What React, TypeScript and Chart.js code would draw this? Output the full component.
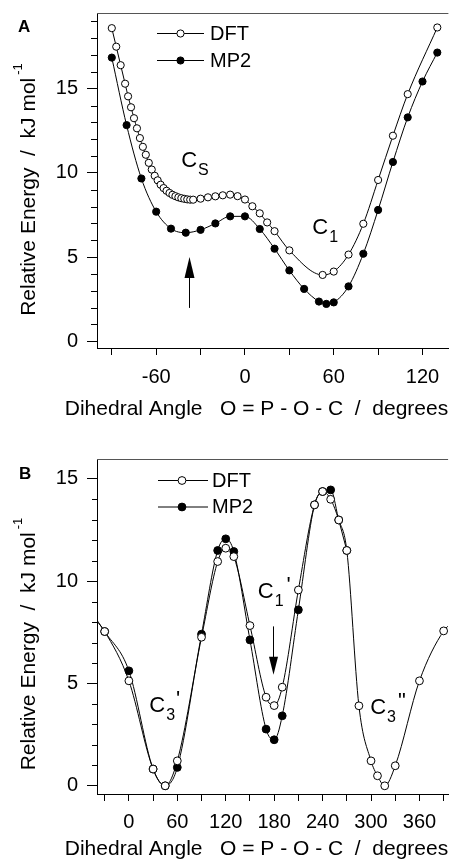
import React, { useEffect, useRef } from 'react';
import { Chart, registerables } from 'chart.js';

Chart.register(...registerables);

const FONT = '"Liberation Sans", Arial, Helvetica, sans-serif';

// ---------------- Panel A ----------------
const aDftAngle = [-90, -87, -84, -81, -79, -77, -75, -73, -71, -69, -67, -65, -63, -61, -59, -57, -55, -53, -51, -49, -47, -45, -43, -41, -39, -37, -35, -30, -25, -20, -15, -10, -5, 0, 5, 10, 15, 20, 30, 52.5, 60, 70, 80, 90, 100, 110, 130];
const aDftEnergy = [18.6, 17.5, 16.4, 15.3, 14.55, 13.9, 13.25, 12.65, 12.07, 11.55, 11.08, 10.6, 10.2, 9.83, 9.56, 9.3, 9.1, 8.94, 8.81, 8.7, 8.62, 8.55, 8.5, 8.46, 8.43, 8.41, 8.41, 8.47, 8.55, 8.61, 8.67, 8.71, 8.62, 8.42, 8.02, 7.6, 7.06, 6.54, 5.4, 3.94, 4.14, 5.15, 6.98, 9.58, 12.21, 14.68, 18.64];
const aMp2Angle = [-90, -80, -70, -60, -50, -40, -30, -20, -10, 0, 10, 20, 30, 40, 50, 55, 60, 70, 80, 90, 100, 110, 120, 130];
const aMp2Energy = [16.85, 12.84, 9.67, 7.7, 6.69, 6.45, 6.62, 7.0, 7.42, 7.42, 6.67, 5.5, 4.21, 3.11, 2.36, 2.22, 2.31, 3.26, 5.2, 7.8, 10.65, 13.3, 15.43, 17.15];
const aXLabels = [-60, 0, 60, 120];
const aYLabels = [0, 5, 10, 15];

// ---------------- Panel B ----------------
const bDftAngle = [-45, -30, 0, 30, 45, 60, 90, 110, 120, 130, 150, 170, 180, 190, 210, 230, 240, 250, 260, 270, 285, 300, 308, 317, 330, 360, 390, 400];
const bDftEnergy = [8.3, 7.54, 5.13, 0.82, 0, 1.22, 7.26, 10.96, 11.61, 11.2, 7.83, 4.33, 3.92, 4.82, 9.57, 13.73, 14.38, 14.0, 12.99, 11.5, 3.91, 1.22, 0.49, 0, 0.98, 5.13, 7.57, 7.95];
const bMp2Angle = [-45, -30, 0, 30, 45, 60, 90, 110, 120, 130, 150, 170, 180, 190, 210, 230, 240, 250, 260, 270];
const bMp2Energy = [8.4, 7.54, 5.62, 0.82, 0, 0.9, 7.41, 11.5, 12.07, 11.45, 7.13, 2.77, 2.25, 3.42, 8.6, 13.73, 14.38, 14.46, 12.99, 11.5];
const bXLabels = [0, 60, 120, 180, 240, 300, 360];
const bYLabels = [0, 5, 10, 15];

const seriesNames = ['DFT', 'MP2'];
const xTitle = 'Dihedral Angle   O = P - O - C  /  degrees';
const yTitleMain = 'Relative Energy  /  kJ mol';
const yTitleSup = '-1';

function pts(xs: number[], ys: number[]) {
  return xs.map((x, i) => ({ x, y: ys[i] }));
}

type Lbl = { x: number; y: number; main: string; sub: string; mark?: string; markDx?: number };
type Arr = { x: number; from: number; to: number; head: number; half: number };

function drawOpenOrFilled(ctx: CanvasRenderingContext2D, x: number, y: number, r: number, filled: boolean) {
  ctx.beginPath();
  ctx.arc(x, y, r, 0, Math.PI * 2);
  ctx.fillStyle = filled ? '#000' : '#fff';
  ctx.fill();
  ctx.lineWidth = 1;
  ctx.strokeStyle = '#000';
  ctx.stroke();
}

function makeConfig(p: any) {
  const plugin = {
    id: 'decor' + p.tag,
    afterDraw(chart: any) {
      const ctx: CanvasRenderingContext2D = chart.ctx;
      const ca = chart.chartArea;
      const xs = chart.scales.x;
      const ys = chart.scales.y;
      ctx.save();
      // top frame line
      ctx.strokeStyle = '#555';
      ctx.lineWidth = 1;
      ctx.beginPath();
      ctx.moveTo(ca.left, Math.round(ca.top) + 0.5);
      ctx.lineTo(ca.right, Math.round(ca.top) + 0.5);
      ctx.stroke();
      // minor y ticks
      ctx.strokeStyle = '#000';
      ctx.beginPath();
      ys.ticks.forEach((t: any) => {
        if (p.yLabels.includes(t.value)) return;
        const py = Math.round(ys.getPixelForValue(t.value)) + 0.5;
        ctx.moveTo(ca.left - p.minorLen, py);
        ctx.lineTo(ca.left + 0.5, py);
      });
      ctx.stroke();

      // panel letter
      ctx.fillStyle = '#000';
      ctx.font = `bold 17px ${FONT}`;
      ctx.textAlign = 'left';
      ctx.textBaseline = 'alphabetic';
      ctx.fillText(p.letter, p.letterPos[0], p.letterPos[1]);

      // legend
      const lg = p.legend;
      seriesNames.forEach((name, i) => {
        const yy = lg.rows[i];
        ctx.strokeStyle = '#000';
        ctx.lineWidth = 1;
        ctx.beginPath();
        ctx.moveTo(lg.x0, yy + 0.5);
        ctx.lineTo(lg.x1, yy + 0.5);
        ctx.stroke();
        drawOpenOrFilled(ctx, lg.cx, yy + 0.5, p.r, i === 1);
        ctx.fillStyle = '#000';
        ctx.font = `20px ${FONT}`;
        ctx.textBaseline = 'middle';
        ctx.textAlign = 'left';
        ctx.fillText(name, lg.tx, yy + 1);
      });

      // conformer labels
      ctx.textBaseline = 'alphabetic';
      ctx.textAlign = 'left';
      (p.labels as Lbl[]).forEach((l) => {
        const px = xs.getPixelForValue(l.x);
        const py = ys.getPixelForValue(l.y);
        ctx.fillStyle = '#000';
        ctx.font = `22px ${FONT}`;
        ctx.fillText(l.main, px, py);
        const wm = ctx.measureText(l.main).width;
        ctx.font = `16px ${FONT}`;
        ctx.fillText(l.sub, px + wm + 1, py + 8);
        const ws = ctx.measureText(l.sub).width;
        if (l.mark) {
          ctx.font = `22px ${FONT}`;
          ctx.fillText(l.mark, px + wm + 1 + ws + (l.markDx || 1), py - 6);
        }
      });

      // arrows
      (p.arrows as Arr[]).forEach((a) => {
        const px = Math.round(xs.getPixelForValue(a.x)) + 0.5;
        const p0 = ys.getPixelForValue(a.from);
        const p1 = ys.getPixelForValue(a.to);
        const dir = p1 < p0 ? 1 : -1;
        ctx.strokeStyle = '#000';
        ctx.lineWidth = 1;
        ctx.beginPath();
        ctx.moveTo(px, p0);
        ctx.lineTo(px, p1 + dir * a.head * 0.6);
        ctx.stroke();
        ctx.beginPath();
        ctx.moveTo(px, p1);
        ctx.lineTo(px - a.half, p1 + dir * a.head);
        ctx.lineTo(px + a.half, p1 + dir * a.head);
        ctx.closePath();
        ctx.fillStyle = '#000';
        ctx.fill();
      });

      // x title
      ctx.fillStyle = '#000';
      ctx.font = `21px ${FONT}`;
      ctx.textAlign = 'center';
      ctx.textBaseline = 'alphabetic';
      ctx.fillText(xTitle, p.xTitlePos[0], p.xTitlePos[1]);

      // y title (rotated)
      ctx.save();
      ctx.translate(p.yTitlePos[0], p.yTitlePos[1]);
      ctx.rotate(-Math.PI / 2);
      ctx.font = `21px ${FONT}`;
      const wMain = ctx.measureText(yTitleMain).width;
      ctx.font = `13px ${FONT}`;
      const wSup = ctx.measureText(yTitleSup).width;
      const total = wMain + 3 + wSup;
      ctx.textAlign = 'left';
      ctx.font = `21px ${FONT}`;
      ctx.fillText(yTitleMain, -total / 2, 0);
      ctx.font = `13px ${FONT}`;
      ctx.fillText(yTitleSup, -total / 2 + wMain + 3, -13);
      ctx.restore();

      ctx.restore();
    },
  };

  const radius = (c: any) => {
    const v = c.raw && c.raw.x;
    return v < p.xMin || v > p.xMax ? 0 : p.r;
  };

  const base = {
    borderColor: '#000',
    borderWidth: 1,
    pointBorderColor: '#000',
    pointBorderWidth: 1,
    pointRadius: radius,
    pointHoverRadius: radius,
    cubicInterpolationMode: 'monotone',
    fill: false,
  };

  return {
    type: 'line',
    data: {
      datasets: [
        { ...base, label: seriesNames[0], data: pts(p.dftX, p.dftY), backgroundColor: '#fff', pointBackgroundColor: '#fff' },
        { ...base, label: seriesNames[1], data: pts(p.mp2X, p.mp2Y), backgroundColor: '#000', pointBackgroundColor: '#000' },
      ],
    },
    options: {
      animation: false,
      responsive: false,
      devicePixelRatio: 1,
      events: [],
      layout: { padding: { top: p.top, left: 0, right: 0, bottom: 0 } },
      plugins: { legend: { display: false }, tooltip: { enabled: false } },
      scales: {
        x: {
          type: 'linear',
          min: p.xMin,
          max: p.xMax,
          afterFit: (s: any) => {
            s.height = p.xAxisH;
            s.paddingLeft = 0;
            s.paddingRight = 0;
          },
          border: { display: true, color: '#000', width: 1 },
          grid: { display: true, drawOnChartArea: false, drawTicks: true, tickLength: 7, tickColor: '#000', tickWidth: 1 },
          ticks: {
            stepSize: 30,
            autoSkip: false,
            includeBounds: false,
            maxRotation: 0,
            padding: p.xTickPad,
            color: '#000',
            font: { family: FONT, size: 20 },
            callback: (v: any) => (p.xLabels.includes(v) ? String(v) : ''),
          },
        },
        y: {
          type: 'linear',
          min: p.yMin,
          max: p.yMax,
          afterFit: (s: any) => {
            s.width = 97;
            s.paddingTop = 0;
            s.paddingBottom = 0;
          },
          border: { display: true, color: '#000', width: 1 },
          grid: {
            display: true,
            drawOnChartArea: false,
            drawTicks: true,
            tickLength: 10,
            tickWidth: 1,
            tickColor: (c: any) => (c.tick && p.yLabels.includes(c.tick.value) ? '#000' : 'rgba(0,0,0,0)'),
          },
          ticks: {
            stepSize: 1,
            autoSkip: false,
            includeBounds: false,
            padding: 9,
            color: '#000',
            font: { family: FONT, size: 20 },
            callback: (v: any) => (p.yLabels.includes(v) ? String(v) : ''),
          },
        },
      },
    },
    plugins: [plugin],
  } as any;
}

const panelA = {
  tag: 'A',
  letter: 'A',
  letterPos: [18, 32],
  dftX: aDftAngle,
  dftY: aDftEnergy,
  mp2X: aMp2Angle,
  mp2Y: aMp2Energy,
  xLabels: aXLabels,
  yLabels: aYLabels,
  xMin: -100,
  xMax: 137.5,
  yMin: -0.4,
  yMax: 19.5,
  top: 13,
  xAxisH: 82,
  xTickPad: 10,
  minorLen: 6,
  r: 3.6,
  legend: { rows: [33, 60], x0: 157, x1: 204, cx: 180.5, tx: 210 },
  labels: [
    { x: -43.1, y: 10.37, main: 'C', sub: 'S' },
    { x: 45.5, y: 6.39, main: 'C', sub: '1' },
  ],
  arrows: [{ x: -37.6, from: 1.98, to: 5.0, head: 21, half: 5 }],
  xTitlePos: [256.5, 415],
  yTitlePos: [35, 189.5],
};

const panelB = {
  tag: 'B',
  letter: 'B',
  letterPos: [19, 49],
  dftX: bDftAngle,
  dftY: bDftEnergy,
  mp2X: bMp2Angle,
  mp2Y: bMp2Energy,
  xLabels: bXLabels,
  yLabels: bYLabels,
  xMin: -39.5,
  xMax: 395.5,
  yMin: -0.4,
  yMax: 15.97,
  top: 29,
  xAxisH: 67,
  xTickPad: 9,
  minorLen: 5,
  r: 3.9,
  legend: { rows: [50, 76.5], x0: 158, x1: 208, cx: 182, tx: 212 },
  labels: [
    { x: 159.7, y: 9.19, main: 'C', sub: '1', mark: "'", markDx: 3 },
    { x: 25.3, y: 3.62, main: 'C', sub: '3', mark: "'", markDx: 1 },
    { x: 298.9, y: 3.52, main: 'C', sub: '3', mark: '"', markDx: 2 },
  ],
  arrows: [{ x: 178.8, from: 7.79, to: 5.43, head: 18, half: 4.5 }],
  xTitlePos: [256.5, 425],
  yTitlePos: [35, 214],
};

export default function App() {
  const refA = useRef<HTMLCanvasElement>(null);
  const refB = useRef<HTMLCanvasElement>(null);
  useEffect(() => {
    const a = new Chart(refA.current as HTMLCanvasElement, makeConfig(panelA));
    const b = new Chart(refB.current as HTMLCanvasElement, makeConfig(panelB));
    return () => {
      a.destroy();
      b.destroy();
    };
  }, []);
  return (
    <div style={{ position: 'absolute', left: 0, top: 0, width: 453, height: 861, background: '#fff' }}>
      <canvas ref={refA} width={453} height={430} style={{ position: 'absolute', left: 0, top: 0, width: 453, height: 430 }} />
      <canvas ref={refB} width={453} height={431} style={{ position: 'absolute', left: 0, top: 430, width: 453, height: 431 }} />
    </div>
  );
}
